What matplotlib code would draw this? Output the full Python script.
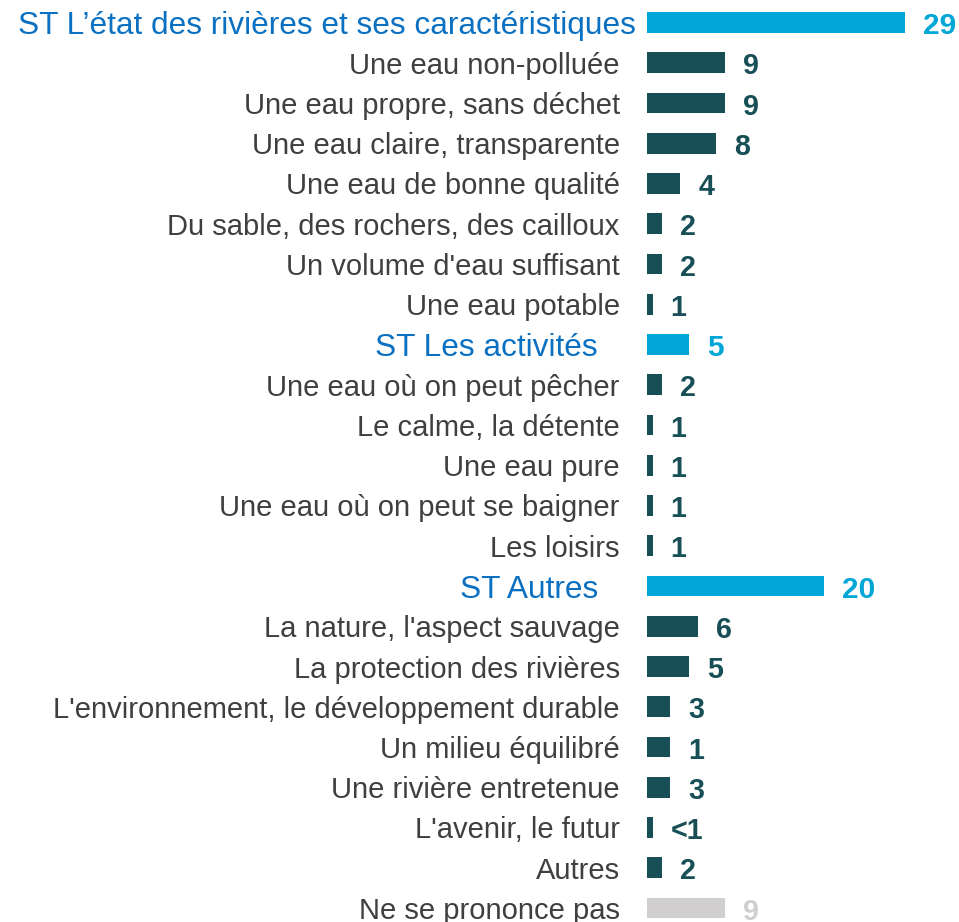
import matplotlib
matplotlib.use("Agg")
import matplotlib.pyplot as plt

plt.rcParams['font.family'] = ['Liberation Sans', 'DejaVu Sans']

categories = [
    "ST L\u2019état des rivières et ses caractéristiques",
    "Une eau non-polluée",
    "Une eau propre, sans déchet",
    "Une eau claire, transparente",
    "Une eau de bonne qualité",
    "Du sable, des rochers, des cailloux",
    "Un volume d'eau suffisant",
    "Une eau potable",
    "ST Les activités",
    "Une eau où on peut pêcher",
    "Le calme, la détente",
    "Une eau pure",
    "Une eau où on peut se baigner",
    "Les loisirs",
    "ST Autres",
    "La nature, l'aspect sauvage",
    "La protection des rivières",
    "L'environnement, le développement durable",
    "Un milieu équilibré",
    "Une rivière entretenue",
    "L'avenir, le futur",
    "Autres",
    "Ne se prononce pas",
]
values = [29, 8.7, 8.7, 7.7, 3.7, 1.6, 1.6, 0.6, 4.7, 1.6, 0.6, 0.6, 0.6, 0.6,
          19.9, 5.7, 4.7, 2.6, 2.6, 2.6, 0.6, 1.6, 8.7]
value_labels = ["29", "9", "9", "8", "4", "2", "2", "1", "5", "2", "1", "1", "1", "1",
                "20", "6", "5", "3", "1", "3", "<1", "2", "9"]
kinds = ["head", "item", "item", "item", "item", "item", "item", "item",
         "head", "item", "item", "item", "item", "item",
         "head", "item", "item", "item", "item", "item", "item", "item",
         "nsp"]

bar_colors = {"head": "#00A7D6", "item": "#184F56", "nsp": "#D0CECF"}
val_colors = {"head": "#00A7D6", "item": "#184F56", "nsp": "#D0CECF"}
lab_colors = {"head": "#0A70C2", "item": "#3F3F3F", "nsp": "#3F3F3F"}
lab_sizes = {"head": 22.8, "item": 21.0, "nsp": 21.0}
val_sizes = {"head": 21.5, "item": 20.6, "nsp": 20.6}

W, H, DPI = 959, 922, 100
fig = plt.figure(figsize=(W / DPI, H / DPI), dpi=DPI)
x0 = 647.3
ppu = 8.88
row = 40.25
top = 22.5
ax = fig.add_axes([x0 / W, 0, 1 - x0 / W, 1])
ax.set_xlim(0, (W - x0) / ppu)
n = len(categories)
ax.set_ylim((H - top) / row, -top / row)
ax.axis('off')

ypos = list(range(n))
ax.barh(ypos, values, height=0.52, color=[bar_colors[k] for k in kinds], left=0)

px2pt = 72 / DPI
# right edge offsets of category labels (pixels left of bar start)
lab_off = []
hcount = 0
for k in kinds:
    if k == "head":
        lab_off.append(-11.5 if hcount == 0 else -49.5)
        hcount += 1
    else:
        lab_off.append(-27.5)

for i, (cat, v, vl, k) in enumerate(zip(categories, values, value_labels, kinds)):
    ax.annotate(cat, xy=(0, i), xytext=(lab_off[i] * px2pt, 0), textcoords='offset points',
                ha='right', va='center_baseline', fontsize=lab_sizes[k], color=lab_colors[k],
                annotation_clip=False)
    ax.annotate(vl, xy=(v, i), xytext=(18 * px2pt, -0.5), textcoords='offset points',
                ha='left', va='center_baseline', fontsize=val_sizes[k], fontweight='bold',
                color=val_colors[k], annotation_clip=False)

fig.savefig("out.png", dpi=DPI)
